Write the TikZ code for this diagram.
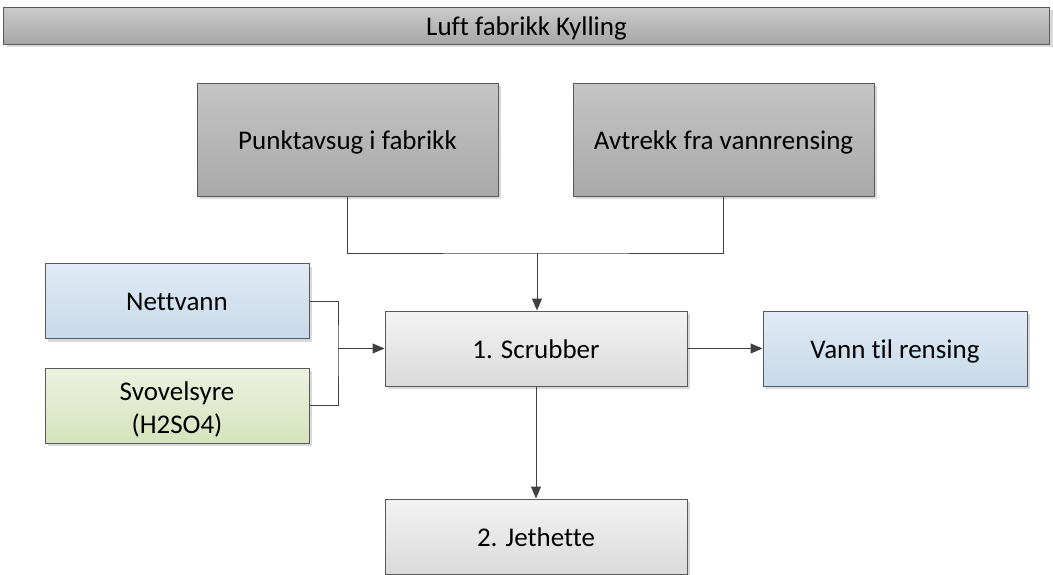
\documentclass[tikz,border=0pt]{standalone}
\usepackage{fontspec}
\setmainfont{Carlito}[Ligatures={NoCommon}]
\usetikzlibrary{arrows.meta,shadows}

\definecolor{edgegray}{HTML}{5A5A5A}
\definecolor{wiregray}{HTML}{404040}
\definecolor{titletop}{HTML}{CACACA}
\definecolor{titlebot}{HTML}{A6A6A6}
\definecolor{darktop}{HTML}{C4C4C4}
\definecolor{darkbot}{HTML}{A9A9A9}
\definecolor{lighttop}{HTML}{F3F3F3}
\definecolor{lightbot}{HTML}{DADADA}
\definecolor{bluetop}{HTML}{E1EBF5}
\definecolor{bluebot}{HTML}{C6D9EA}
\definecolor{greentop}{HTML}{EDF2E0}
\definecolor{greenbot}{HTML}{D6E3BC}

\tikzset{
  boxfont/.style={font=\fontsize{27}{33}\selectfont},
  box/.style={draw=edgegray, line width=1pt, inner sep=2pt, align=center, boxfont,
    drop shadow={shadow xshift=3pt, shadow yshift=-3pt, fill=black, opacity=0.15}},
  oneline/.style={text height=22pt, text depth=3pt},
  titlebar/.style={box, oneline, top color=titletop, bottom color=titlebot},
  darkbox/.style={box, oneline, top color=darktop, bottom color=darkbot},
  lightbox/.style={box, oneline, top color=lighttop, bottom color=lightbot},
  bluebox/.style={box, oneline, top color=bluetop, bottom color=bluebot},
  greenbox/.style={box, top color=greentop, bottom color=greenbot},
  boxtext/.style={inner sep=0pt, align=center, boxfont},
  wire/.style={draw=wiregray, line width=1pt},
  flow/.style={wire, -{Triangle[length=12pt,width=10pt]}}
}

\begin{document}
\begin{tikzpicture}[x=1pt, y=-1pt]
\useasboundingbox (0,0) rectangle (1053,575);

% header
\node[titlebar, minimum width=1046pt, minimum height=37pt] (title) at (526.5,26) {Luft fabrikk Kylling};

% air sources
\node[darkbox, minimum width=301pt, minimum height=113pt] (pa) at (347.5,140) {Punktavsug i fabrikk};
\node[darkbox, minimum width=301pt, minimum height=113pt] (av) at (723.5,140) {Avtrekk fra vannrensing};

% water and acid feed
\node[bluebox, minimum width=264pt, minimum height=75pt] (nv) at (177,301) {Nettvann};
\node[greenbox, minimum width=264pt, minimum height=75pt] (sv) at (177,405.5) {};
\node[boxtext, yshift=-4pt] (svtext) at (sv.center) {Svovelsyre\\(H2SO4)};

% treatment steps
\node[lightbox, minimum width=302pt, minimum height=75pt] (sc) at (536,348.5) {1. Scrubber};
\node[bluebox, minimum width=264pt, minimum height=75pt] (vt) at (895,348.5) {Vann til rensing};
\node[lightbox, minimum width=302pt, minimum height=75pt] (jh) at (536,536.5) {2. Jethette};

% junction points
\coordinate (jtop) at (537,253);
\coordinate (jleft) at (338,348.5);

% connectors
\draw[wire] (pa.south) |- (jtop) -| (av.south);
\draw[flow] (jtop) -- (jtop |- sc.north);
\draw[wire] (nv.east) -| (jleft) |- (sv.east);
\draw[flow] (jleft) -- (sc.west);
\draw[flow] (sc.east) -- (vt.west);
\draw[flow] (sc.south) -- (jh.north);
\end{tikzpicture}
\end{document}
